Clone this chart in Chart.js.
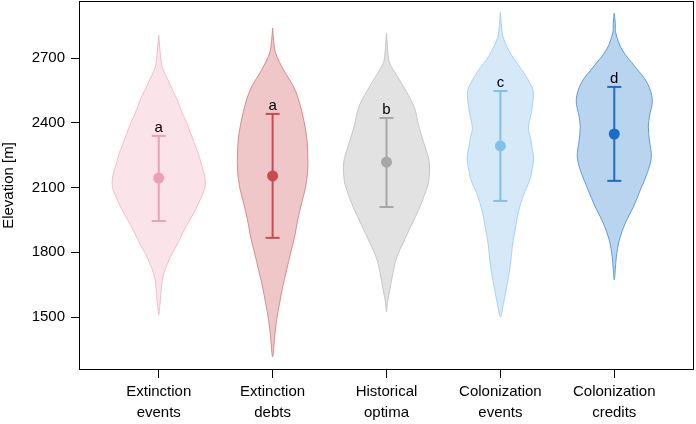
<!DOCTYPE html>
<html lang="en">
<head>
    <meta charset="UTF-8">
    <title>Elevation violins</title>
    <script src="https://cdn.jsdelivr.net/npm/chart.js"></script>
    <style>
        html, body { margin: 0; padding: 0; background: #fff; }
        .chart-container { width: 696px; height: 424px; }
    </style>
</head>
<body>
    <div class="chart-container">
        <canvas id="violinChart"></canvas>
    </div>
    <script>
        // Categories and tick labels
        const categories = ['Extinction events', 'Extinction debts', 'Historical optima', 'Colonization events', 'Colonization credits'];
        const yTicks = [1500, 1800, 2100, 2400, 2700];
        const groupLetters = ['a', 'a', 'b', 'c', 'd'];

        // Summary values (elevation, m)
        const medians = [2144, 2154, 2218, 2293, 2348];
        const lowerBars = [1945, 1867, 2010, 2038, 2131];
        const upperBars = [2339, 2441, 2422, 2547, 2566];

        // Density profiles: elevation levels and half-widths (in category units)
        const elev1 = [2806, 2750, 2700, 2650, 2600, 2550, 2500, 2450, 2400, 2350, 2300, 2250, 2200, 2150, 2100, 2050, 2000, 1950, 1900, 1850, 1800, 1750, 1700, 1650, 1600, 1550, 1510];
        const dens1 = [0, .009, .018, .035, .079, .123, .167, .202, .246, .281, .317, .352, .378, .405, .405, .369, .325, .273, .22, .176, .123, .079, .044, .026, .018, .009, 0];

        const elev2 = [2839, 2780, 2723, 2644, 2566, 2491, 2413, 2334, 2260, 2181, 2103, 2029, 1950, 1871, 1797, 1718, 1640, 1566, 1487, 1408, 1316];
        const dens2 = [0, .009, .026, .097, .185, .237, .273, .299, .308, .308, .29, .255, .22, .193, .158, .123, .088, .062, .035, .018, 0];

        const elev3 = [2816, 2750, 2680, 2621, 2543, 2469, 2390, 2311, 2237, 2191, 2126, 2080, 2006, 1927, 1848, 1774, 1695, 1617, 1570, 1524];
        const dens3 = [0, .009, .026, .088, .176, .246, .281, .325, .369, .378, .369, .343, .29, .22, .15, .088, .053, .026, .009, 0];

        const elev4 = [2913, 2850, 2793, 2714, 2635, 2561, 2529, 2482, 2450, 2376, 2330, 2297, 2251, 2219, 2172, 2144, 2098, 2066, 1987, 1913, 1834, 1742, 1635, 1560, 1501];
        const dens4 = [0, .009, .026, .097, .202, .281, .29, .281, .273, .246, .264, .273, .29, .29, .273, .264, .229, .202, .158, .132, .106, .088, .053, .026, 0];

        const elev5 = [2908, 2860, 2816, 2737, 2658, 2584, 2506, 2427, 2381, 2320, 2242, 2168, 2089, 2010, 1936, 1857, 1779, 1720, 1672];
        const dens5 = [0, .009, .013, .07, .185, .29, .334, .308, .299, .308, .325, .29, .229, .167, .097, .044, .018, .009, 0];

        const elevations = [elev1, elev2, elev3, elev4, elev5];
        const densities = [dens1, dens2, dens3, dens4, dens5];

        // Colours per group
        const fillColors = ['#fbe3ea', '#efc7c9', '#e2e2e2', '#d6e9f9', '#b9d4ef'];
        const strokeColors = ['#f3bccb', '#d88b8e', '#c6c6c6', '#a9d1f1', '#5f9cd8'];
        const barColors = ['#eba1b5', '#cb4a51', '#a7a7a7', '#83bfeb', '#1d6cc4'];

        // Build a closed outline: down the right side, back up the left side
        function violinOutline(i) {
            const c = i + 1;
            const ys = elevations[i];
            const ws = densities[i];
            const pts = [];
            for (let k = 0; k < ys.length; k++) pts.push({ x: c + ws[k], y: ys[k] });
            for (let k = ys.length - 2; k >= 1; k--) pts.push({ x: c - ws[k], y: ys[k] });
            pts.push({ x: c, y: ys[0] });
            return pts;
        }

        const datasets = [];
        categories.forEach((cat, i) => {
            datasets.push({
                label: cat + ' density',
                data: violinOutline(i),
                showLine: true,
                fill: 'shape',
                backgroundColor: fillColors[i],
                borderColor: strokeColors[i],
                borderWidth: 1,
                tension: 0.35,
                pointRadius: 0,
                order: 3
            });
            datasets.push({
                label: cat + ' range',
                data: [{ x: i + 1, y: lowerBars[i] }, { x: i + 1, y: upperBars[i] }],
                showLine: true,
                borderColor: barColors[i],
                borderWidth: 2,
                pointStyle: 'line',
                pointRadius: 7,
                pointBorderWidth: 2,
                pointBorderColor: barColors[i],
                order: 2
            });
            datasets.push({
                label: cat + ' median',
                data: [{ x: i + 1, y: medians[i] }],
                pointRadius: 5.5,
                pointBackgroundColor: barColors[i],
                pointBorderColor: barColors[i],
                pointBorderWidth: 0,
                order: 1
            });
        });

        // Frame around the plot area and group letters
        const extrasPlugin = {
            id: 'extras',
            afterDatasetsDraw(chart) {
                const { ctx, chartArea, scales } = chart;
                ctx.save();
                ctx.fillStyle = '#000';
                ctx.font = '15px "Liberation Sans", Arial, sans-serif';
                ctx.textAlign = 'center';
                ctx.textBaseline = 'alphabetic';
                groupLetters.forEach((g, i) => {
                    const x = scales.x.getPixelForValue(i + 1);
                    const y = scales.y.getPixelForValue(upperBars[i]);
                    ctx.fillText(g, x, y - 4);
                });
                ctx.strokeStyle = '#000';
                ctx.lineWidth = 1;
                ctx.strokeRect(chartArea.left + 0.5, chartArea.top + 0.5,
                    chartArea.right - chartArea.left - 1, chartArea.bottom - chartArea.top - 1);
                ctx.restore();
            }
        };

        const tickFont = { family: '"Liberation Sans", Arial, sans-serif', size: 15 };

        new Chart(document.getElementById('violinChart'), {
            type: 'scatter',
            data: { datasets },
            options: {
                responsive: true,
                maintainAspectRatio: false,
                animation: false,
                layout: { autoPadding: false, padding: { left: 0, top: 1, right: 2, bottom: 0 } },
                plugins: {
                    legend: { display: false },
                    tooltip: { enabled: false }
                },
                scales: {
                    x: {
                        type: 'linear',
                        min: 0.3,
                        max: 5.7,
                        afterBuildTicks: axis => { axis.ticks = categories.map((_, i) => ({ value: i + 1 })); },
                        afterFit: axis => {
                            axis.height = 54;
                            axis.paddingLeft = 0;
                            axis.paddingRight = 0;
                        },
                        grid: { drawOnChartArea: false, drawTicks: true, tickLength: 8, color: '#000', lineWidth: 1 },
                        border: { display: false },
                        ticks: {
                            color: '#000',
                            font: { ...tickFont, lineHeight: 1.4 },
                            padding: 3,
                            maxRotation: 0,
                            autoSkip: false,
                            callback: v => categories[v - 1].split(' ')
                        }
                    },
                    y: {
                        min: 1255,
                        max: 2964,
                        afterBuildTicks: axis => { axis.ticks = yTicks.map(v => ({ value: v })); },
                        afterFit: axis => {
                            axis.width = 79;
                            axis.paddingTop = 0;
                            axis.paddingBottom = 0;
                        },
                        grid: { drawOnChartArea: false, drawTicks: true, tickLength: 8, color: '#000', lineWidth: 1 },
                        border: { display: false },
                        title: {
                            display: true,
                            text: 'Elevation [m]',
                            color: '#000',
                            font: tickFont,
                            padding: { top: 0, bottom: 0 }
                        },
                        ticks: { color: '#000', font: tickFont, padding: 6, callback: v => String(v) }
                    }
                }
            },
            plugins: [extrasPlugin]
        });
    </script>
</body>
</html>
